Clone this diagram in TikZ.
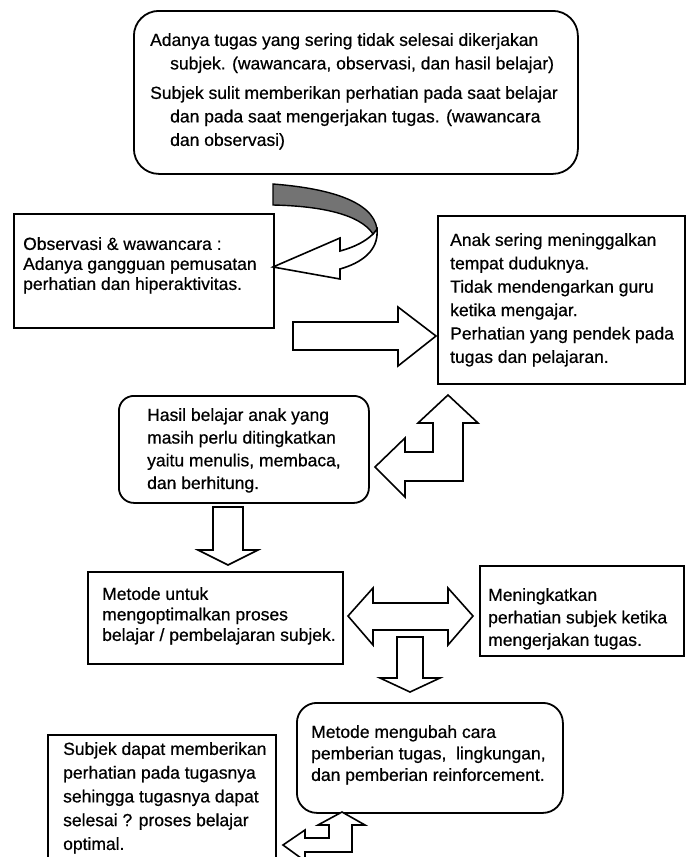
\documentclass[tikz,border=0pt]{standalone}
\usepackage{fontspec}
\setmainfont{Liberation Sans}
\newfontfamily\heavyfont{Liberation Sans}[FakeBold=0.6]
\begin{document}
\begin{tikzpicture}[x=1pt,y=-1pt,
  box/.style={draw=black, line width=1.8pt, fill=white, inner sep=0pt, anchor=north west},
  rbox/.style={box, rounded corners=#1},
  txt/.style={inner sep=0pt, anchor=north west, align=left, text=black},
  blk/.style={draw=black, line width=1.6pt, fill=white, line join=miter},
  band/.style={draw=black, line width=1.4pt, fill=black!55}]
\useasboundingbox (0,0) rectangle (686,857);
\clip (0,0) rectangle (686,857);
\fill[white] (0,0) rectangle (686,857);

% boxes
\node[rbox=25pt, minimum width=444pt, minimum height=163pt] (b1) at (133,10) {};
\node[box, minimum width=260pt, minimum height=114pt] (b2) at (13,213) {};
\node[box, minimum width=247pt, minimum height=168pt] (b3) at (437,215) {};
\node[rbox=15pt, minimum width=250pt, minimum height=107pt] (b4) at (118,395) {};
\node[box, minimum width=255pt, minimum height=92pt] (b5) at (87,571) {};
\node[box, minimum width=204pt, minimum height=90pt] (b6) at (479,565) {};
\node[rbox=20pt, minimum width=266pt, minimum height=110pt] (b7) at (296,702) {};
\node[box, minimum width=228pt, minimum height=140pt] (b8) at (47,734) {};

% texts
\node[txt, font=\heavyfont\fontsize{17.5}{23.5}\selectfont] (t1) at (150,33)
 {Adanya tugas yang sering tidak selesai dikerjakan\\
  \hspace*{20pt}subjek. (wawancara, observasi, dan hasil belajar)\\[6pt]
  Subjek sulit memberikan perhatian pada saat belajar\\
  \hspace*{20pt}dan pada saat mengerjakan tugas. (wawancara\\
  \hspace*{20pt}dan observasi)};
\node[txt, font=\heavyfont\fontsize{17.5}{20}\selectfont] (t2) at (23,237)
 {Observasi \& wawancara :\\Adanya gangguan pemusatan\\perhatian dan hiperaktivitas.};
\node[txt, font=\heavyfont\fontsize{17.5}{23.4}\selectfont] (t3) at (450,233)
 {Anak sering meninggalkan\\tempat duduknya.\\Tidak mendengarkan guru\\ketika mengajar.\\Perhatian yang pendek pada\\tugas dan pelajaran.};
\node[txt, font=\heavyfont\fontsize{17.5}{22.7}\selectfont] (t4) at (147,408)
 {Hasil belajar anak yang\\masih perlu ditingkatkan\\yaitu menulis, membaca,\\dan berhitung.};
\node[txt, font=\heavyfont\fontsize{17.5}{20.5}\selectfont] (t5) at (102,587)
 {Metode untuk\\mengoptimalkan proses\\belajar / pembelajaran subjek.};
\node[txt, font=\heavyfont\fontsize{17.5}{22.5}\selectfont] (t6) at (488,588)
 {Meningkatkan\\perhatian subjek ketika\\mengerjakan tugas.};
\node[txt, font=\heavyfont\fontsize{17.5}{21.5}\selectfont] (t7) at (311,725)
 {Metode mengubah cara\\pemberian tugas,\ \ lingkungan,\\dan pemberian reinforcement.};
\node[txt, font=\heavyfont\fontsize{17.5}{23.75}\selectfont] (t8) at (63,742)
 {Subjek dapat memberikan\\perhatian pada tugasnya\\sehingga tugasnya dapat\\selesai ? proses belajar\\optimal.};

% curved arrow
\draw[blk] (377,229) .. controls (379,251) and (361,263) .. (340,269)
  -- (340,279) -- (273,267) -- (340,238) -- (340,251)
  .. controls (355,247) and (366,241) .. (373,234) -- cycle;
\draw[band] (273,184) .. controls (325,188) and (373,200) .. (377,229)
  -- (373,234) .. controls (360,214) and (320,206) .. (273,205) -- cycle;

% right arrow
\draw[blk] (293,322) -- (398,322) -- (398,307) -- (436,336) -- (398,366)
  -- (398,350) -- (293,350) -- cycle;

% bent arrow up/left
\draw[blk] (448,395) -- (478,423) -- (463,423) -- (463,481) -- (405,481)
  -- (405,497) -- (375,467) -- (405,438) -- (405,452) -- (433,452)
  -- (433,423) -- (418,423) -- cycle;

% down arrow
\draw[blk] (213,507) -- (243,507) -- (243,550) -- (258,550) -- (228,565)
  -- (198,550) -- (213,550) -- cycle;

% double arrow
\draw[blk] (348,616) -- (373,588) -- (373,603) -- (448,603) -- (448,588)
  -- (473,616) -- (448,645) -- (448,630) -- (373,630) -- (373,645) -- cycle;

% down arrow 2
\draw[blk] (397,637) -- (423,637) -- (423,678) -- (440,678) -- (410,692)
  -- (380,678) -- (397,678) -- cycle;

% bottom bent arrow
\draw[blk] (342,812) -- (365,825) -- (352,825) -- (352,852) -- (305,852)
  -- (305,861) -- (283,845) -- (305,830) -- (305,838) -- (329,838)
  -- (329,825) -- (318,825) -- cycle;
\end{tikzpicture}
\end{document}
